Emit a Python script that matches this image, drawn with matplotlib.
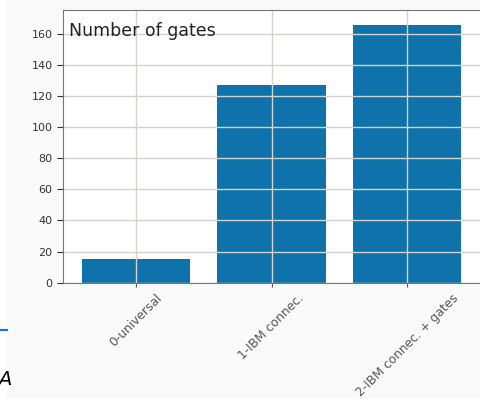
import matplotlib.pyplot as plt
from matplotlib.patches import Rectangle
from matplotlib.lines import Line2D

# Gate counts for each compilation stage
labels = ['0-universal', '1-IBM connec.', '2-IBM connec. + gates']
gates = [15, 127, 166]

W, H = 481, 399
fig = plt.figure(figsize=(W / 100, H / 100), dpi=100)
fig.patch.set_facecolor('#fafafa')

# page margin strip on the left edge
fig.add_artist(Rectangle((0, 0), 7 / W, 1, transform=fig.transFigure,
                         facecolor='white', edgecolor='none'))
fig.add_artist(Line2D([0, 7 / W], [1 - 330 / H] * 2, transform=fig.transFigure,
                      color='#1f77b4', lw=1.6))
fig.text(-2 / W, 1 - 385 / H, 'A', fontsize=14, style='italic', color='black')

ax = fig.add_axes([63 / W, 1 - 282.6 / H, 418 / W, (282.6 - 10) / H])
ax.set_facecolor('white')
x = range(len(labels))
ax.bar(x, gates, width=0.8, color='#0f72aa')
ax.set_xlim(-0.54, 2.545)
ax.set_ylim(0, 175.4)
ax.set_yticks(range(0, 161, 20))
ax.set_xticks(list(x))
ax.set_xticklabels(labels, rotation=45, ha='center', fontsize=8.8, color='#3a3a3a')
ax.tick_params(axis='y', labelsize=8, colors='#333333', length=4)
ax.tick_params(axis='x', length=3, colors='#555555')
ax.grid(True, color='#d4d2cf', lw=1)
for s in ax.spines.values():
    s.set_color('#777777')
ax.spines['right'].set_visible(False)

ax.text(0.015, 0.955, 'Number of gates', transform=ax.transAxes,
        fontsize=12.5, color='#222222', va='top', ha='left')

fig.savefig('out.png', dpi=100, facecolor=fig.get_facecolor())
